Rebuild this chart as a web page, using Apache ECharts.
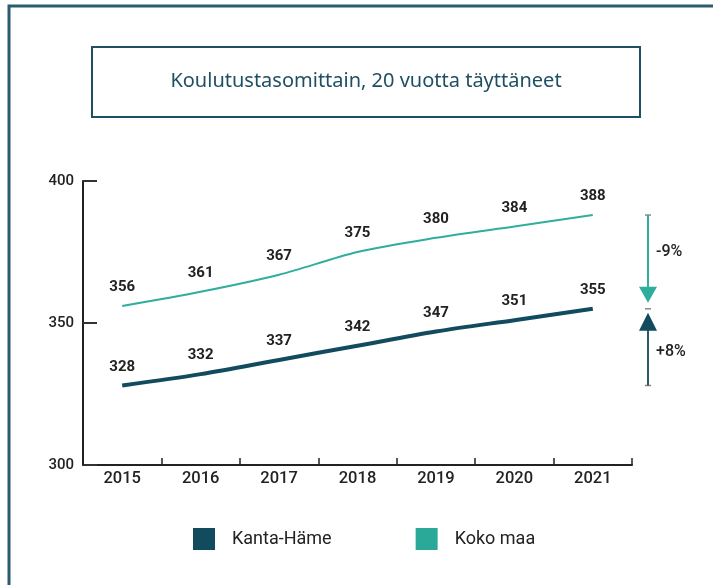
<!DOCTYPE html>
<html><head><meta charset="utf-8">
<script src="https://cdn.jsdelivr.net/npm/echarts@6/dist/echarts.min.js"></script>
<style>html,body{margin:0;padding:0;background:#fff}#c{width:713px;height:585px}</style>
</head><body><div id="c"></div>
<script>
const years = ['2015','2016','2017','2018','2019','2020','2021'];
const kantaHame = [328,332,337,342,347,351,355];
const kokoMaa = [356,361,367,375,380,384,388];
const seriesNames = ['Kanta-Häme','Koko maa'];
const diffLabels = ['-9%','+8%'];
const titleText = 'Koulutustasomittain, 20 vuotta täyttäneet';

const DARK = '#134b5e', TEAL = '#2fae9c', FRAME = '#2a5c70';
const chart = echarts.init(document.getElementById('c'));
const lbl = {show:true, position:'top', distance:11, color:'#222', fontFamily:'Roboto', fontWeight:'bold', fontSize:15};
chart.setOption({
  animation:false,
  backgroundColor:'#fff',
  grid:{left:83, right:81, top:181, bottom:120},
  legend:{
    left:188, top:523, itemWidth:22, itemHeight:22, itemGap:84, icon:'rect',
    textStyle:{fontFamily:'Roboto', fontSize:18, color:'#222', padding:[0,0,0,12]},
    data:[{name:seriesNames[0], itemStyle:{color:DARK}},{name:seriesNames[1], itemStyle:{color:'#2aa898'}}]
  },
  xAxis:{type:'category', data:years, boundaryGap:true,
    axisLine:{lineStyle:{color:'#222', width:2}},
    axisTick:{show:true, inside:true, length:7, lineStyle:{color:'#222', width:1.5}},
    axisLabel:{margin:5, color:'#222', fontFamily:'Roboto', fontWeight:500, fontSize:16.5}},
  yAxis:{type:'value', min:300, max:400, interval:50,
    axisLine:{show:true, lineStyle:{color:'#222', width:2}},
    axisTick:{show:true, inside:true, length:14, lineStyle:{color:'#333', width:2}},
    splitLine:{show:false},
    axisLabel:{margin:9, color:'#222', fontFamily:'Roboto', fontWeight:500, fontSize:15}},
  series:[
    {name:seriesNames[0], type:'line', data:kantaHame, smooth:0.3, symbol:'circle', symbolSize:0.1,
      itemStyle:{color:DARK}, lineStyle:{color:DARK, width:4}, label:lbl, z:3},
    {name:seriesNames[1], type:'line', data:kokoMaa, smooth:0.3, symbol:'circle', symbolSize:0.1,
      itemStyle:{color:TEAL}, lineStyle:{color:TEAL, width:2}, label:lbl, z:2}
  ]
});

const yTop = chart.convertToPixel({yAxisIndex:0}, kokoMaa[kokoMaa.length-1]);
const yMid = chart.convertToPixel({yAxisIndex:0}, kantaHame[kantaHame.length-1]);
const yBot = chart.convertToPixel({yAxisIndex:0}, kantaHame[0]);
const ax = 713 - 81 + 16;
const g = [
  {type:'rect', shape:{x:9, y:6, width:720, height:600}, style:{fill:'none', stroke:FRAME, lineWidth:3}, silent:true},
  {type:'rect', shape:{x:92, y:47, width:548, height:70}, style:{fill:'none', stroke:'#1f4f63', lineWidth:2}},
  {type:'text', x:366, y:81, style:{text:titleText, font:'20px "Noto Sans"', fill:'#1f4f63', textAlign:'center', textVerticalAlign:'middle'}},
  {type:'line', shape:{x1:ax-3, y1:yTop, x2:ax+3, y2:yTop}, style:{stroke:'#888', lineWidth:1.5}},
  {type:'line', shape:{x1:ax-3, y1:yMid, x2:ax+3, y2:yMid}, style:{stroke:'#888', lineWidth:1.5}},
  {type:'line', shape:{x1:ax-3, y1:yBot, x2:ax+3, y2:yBot}, style:{stroke:'#888', lineWidth:1.5}},
  {type:'line', shape:{x1:ax, y1:yTop, x2:ax, y2:yMid-20}, style:{stroke:TEAL, lineWidth:2}},
  {type:'polygon', shape:{points:[[ax-9,yMid-22],[ax+9,yMid-22],[ax,yMid-6]]}, style:{fill:TEAL}},
  {type:'line', shape:{x1:ax, y1:yBot, x2:ax, y2:yMid+20}, style:{stroke:'#2a5a6c', lineWidth:2}},
  {type:'polygon', shape:{points:[[ax-9,yMid+22],[ax+9,yMid+22],[ax,yMid+4]]}, style:{fill:DARK}},
  {type:'text', x:ax+8, y:(yTop+yMid)/2-10, style:{text:diffLabels[0], font:'500 16px Roboto', fill:'#222', textVerticalAlign:'middle'}},
  {type:'text', x:ax+8, y:(yMid+yBot)/2+5, style:{text:diffLabels[1], font:'500 16px Roboto', fill:'#222', textVerticalAlign:'middle'}}
];
chart.setOption({graphic:g});
</script></body></html>
